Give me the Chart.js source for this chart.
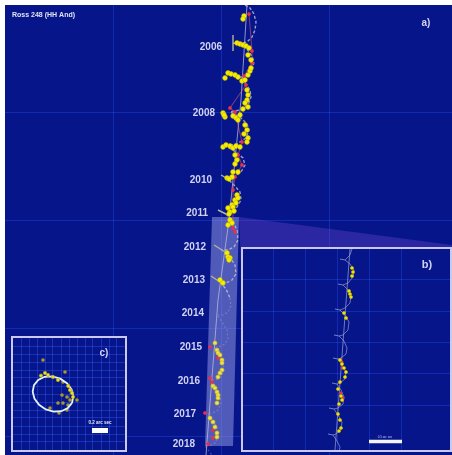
<!DOCTYPE html>
<html>
<head>
<meta charset="utf-8">
<script src="https://cdn.jsdelivr.net/npm/chart.js@4.4.1/dist/chart.umd.min.js"></script>
<style>
  body { margin: 0; background: #fff; width: 452px; height: 455px; position: relative; overflow: hidden; }
  .panel { position: absolute; background: #06168a; box-sizing: border-box; }
  #pa { left: 5px; top: 5px; width: 447px; height: 450px; }
  #pb { left: 241px; top: 247px; width: 211px; height: 205px; border: 2px solid #c9c9ef; }
  #pc { left: 11px; top: 336px; width: 116px; height: 116px; border: 2px solid #c9c9ef; }
  canvas { display: block; }
</style>
</head>
<body>
<div class="panel" id="pa"><canvas id="chartA" width="447" height="450"></canvas></div>
<div class="panel" id="pb"><canvas id="chartB" width="207" height="201"></canvas></div>
<div class="panel" id="pc"><canvas id="chartC" width="112" height="112"></canvas></div>
<script>
// ---- panel a) : full track, offsets in panel units (grid every 108)
const years = ["2006", "2008", "2010", "2011", "2012", "2013", "2014", "2015", "2016", "2017", "2018"];
const yearRA = [217, 210, 207, 203, 201, 200, 199, 197, 195, 191, 190];
const yearDec = [43, 109, 176, 209, 243, 276, 309, 343, 377, 410, 440];

const obsEarly = [
  [239, 12], [238, 15], [232, 39], [235, 40], [238, 41], [241, 42], [244, 44], [243, 51], [246, 56],
  [220, 74], [223, 69], [226, 70], [230, 71], [233, 73], [237, 77], [240, 76], [243, 71], [245, 67], [246, 64],
  [242, 86], [243, 91], [242, 96], [240, 99], [243, 103], [238, 105],
  [218, 109], [220, 113], [219, 111], [228, 112], [231, 114], [233, 116], [235, 111],
  [240, 121], [242, 126], [239, 130], [243, 134],
  [218, 143], [221, 141], [225, 142], [228, 144], [231, 142], [235, 143], [242, 138],
  [230, 151], [232, 156], [230, 160], [228, 168], [233, 168], [227, 173], [222, 174], [224, 175],
  [232, 191], [230, 196], [227, 201], [223, 204], [228, 203], [225, 208], [231, 199], [229, 207], [233, 194], [224, 210],
  [225, 216], [227, 219], [223, 221], [222, 249], [223, 253], [225, 254], [224, 256], [215, 276], [218, 279]
];
const obsLate = [
  [210, 339], [212, 346], [213, 349], [215, 351], [217, 356], [217, 359], [217, 366], [215, 369], [213, 373],
  [208, 382], [210, 384], [212, 388], [213, 391], [213, 394], [212, 399],
  [205, 414], [208, 418], [210, 423], [212, 429], [212, 433]
];
const fitPos = [
  [244, 10], [247, 47], [247, 59], [239, 72], [241, 81], [225, 104], [230, 108], [237, 138], [233, 151],
  [237, 161], [230, 173], [228, 186], [228, 224], [230, 228],
  [205, 343], [213, 354], [205, 374], [207, 378], [200, 409], [208, 426], [208, 434], [203, 440]
];
const modelEarly = [
  [240, 1], [245, 4], [249, 10], [251, 18], [250, 26], [247, 33], [242, 38], [235, 40],
  [241, 44], [247, 52], [249, 58], [247, 66], [241, 72], [232, 74],
  [240, 79], [245, 86], [246, 93], [243, 101], [235, 106], [225, 108],
  [235, 113], [242, 120], [244, 126], [241, 134], [232, 140], [221, 142],
  [231, 148], [238, 154], [240, 161], [236, 168], [229, 173], [223, 175],
  [229, 181], [235, 188], [236, 196], [232, 203], [226, 208], [221, 210],
  [227, 216], [232, 226], [233, 236], [229, 243], [223, 246], [217, 246],
  [224, 252], [230, 261], [231, 270], [227, 276], [221, 279], [215, 278],
  [221, 285], [225, 294]
];
const modelLate = [
  [225, 294], [226, 302], [223, 308], [218, 311], [212, 311],
  [217, 318], [222, 326], [223, 334], [220, 340], [214, 343], [209, 343],
  [214, 350], [218, 358], [219, 366], [216, 373], [211, 376], [206, 376],
  [211, 383], [215, 391], [216, 399], [213, 406], [208, 409], [203, 409],
  [208, 416], [212, 424], [213, 432], [210, 439], [205, 442], [200, 442], [204, 447], [207, 451]
];
const meanPath = [[242, 1], [236, 96], [224, 216], [213, 296], [201, 451]];
const epochMarks = [
  [[228, 31], [228, 47]], [[228, 39], [235, 40]], [[216, 171], [223, 175]],
  [[213, 206], [221, 210]], [[209, 241], [217, 246]], [[206, 272], [215, 278]]
];
const zoomBand = [[207, 213], [234, 213], [228, 442], [200, 442], [207, 213]];
const zoomWedge = [[234, 213], [447, 241], [447, 260], [236, 260], [234, 213]];

// ---- panel b) : 2011-2018 enlarged
const bObs = [
  [111, 20], [112, 24], [111, 28], [108, 43], [109, 46], [110, 49], [103, 65], [105, 70],
  [99, 112], [101, 116], [103, 120], [105, 124], [104, 129], [99, 134], [97, 141], [100, 148],
  [101, 152], [98, 156], [97, 166], [99, 172], [100, 180], [98, 183]
];
const bFit = [[101, 114], [101, 120], [100, 145], [102, 150]];
const bModel = [
  [111, 1], [109, 7], [104, 12], [109, 16], [113, 22], [112, 29], [107, 35], [102, 37],
  [107, 42], [110, 48], [109, 55], [104, 60], [99, 62], [104, 67], [108, 74], [107, 82], [102, 87], [98, 88],
  [103, 93], [106, 100], [105, 106], [100, 110], [97, 111], [101, 117], [105, 124], [104, 131], [99, 135], [96, 136],
  [100, 142], [103, 149], [102, 156], [97, 160], [93, 161], [97, 167], [101, 174], [100, 181], [95, 186], [92, 187],
  [96, 193], [99, 199], [98, 204]
];
const bMean = [[109, 1], [94, 202]];
const bMarks = [
  [[99, 11], [104, 12]], [[97, 36], [102, 37]], [[94, 61], [99, 62]], [[93, 87], [98, 88]],
  [[92, 110], [97, 111]], [[91, 135], [96, 136]], [[88, 160], [93, 161]], [[87, 186], [92, 187]]
];
const bScale = [[128, 193.5], [161, 193.5]];

// ---- panel c) : orbital motion, arcsec
const cOrbit = [
  [0.738, 0.811], [0.685, 0.876], [0.605, 0.915], [0.508, 0.920], [0.410, 0.893], [0.326, 0.835],
  [0.268, 0.758], [0.246, 0.671], [0.262, 0.589], [0.315, 0.524], [0.395, 0.485], [0.492, 0.480],
  [0.590, 0.508], [0.674, 0.565], [0.732, 0.642], [0.754, 0.729], [0.738, 0.811]
];
const cObsOn = [
  [0.4, 0.4375], [0.4375, 0.4625], [0.5, 0.4875], [0.5625, 0.525], [0.35, 0.47],
  [0.7125, 0.65], [0.7375, 0.6875], [0.75, 0.7375], [0.69, 0.6]
];
const cObsOff = [
  [0.375, 0.275], [0.625, 0.55], [0.65, 0.425], [0.675, 0.7375], [0.7125, 0.775], [0.6875, 0.8375],
  [0.625, 0.8125], [0.5625, 0.8125], [0.8, 0.775], [0.575, 0.9375], [0.4625, 0.875], [0.675, 0.9], [0.6125, 0.7125]
];
const cScale = [[0.9875, 1.156], [1.1875, 1.156]];

const pts = a => a.map(([x, y]) => ({ x, y }));
const segs = list => list.flatMap(s => [...pts(s), { x: null, y: null }]);

const GRID = "rgba(45,80,255,0.35)";

function axis(min, max, step, reverse, color) {
  return {
    type: "linear", min, max, reverse,
    ticks: { display: false, stepSize: step },
    border: { display: false },
    grid: {
      drawTicks: false,
      lineWidth: 1,
      color: c => {
        const v = c.tick ? c.tick.value : 0;
        const k = v / step;
        return Math.abs(k - Math.round(k)) < 1e-6 && v > min && v < max ? color : "transparent";
      },
    },
  };
}

function textPlugin(items) {
  return {
    id: "texts",
    afterDatasetsDraw(chart) {
      const { ctx, scales: { x, y } } = chart;
      ctx.save();
      ctx.textBaseline = "middle";
      for (const t of items) {
        ctx.font = t.font;
        ctx.fillStyle = t.color;
        ctx.textAlign = t.align;
        ctx.fillText(t.text, x.getPixelForValue(t.x), y.getPixelForValue(t.y));
      }
      ctx.restore();
    },
  };
}

function baseOptions(xa, ya) {
  return {
    responsive: false,
    animation: false,
    events: [],
    devicePixelRatio: 1,
    layout: { padding: 0, autoPadding: false },
    plugins: { legend: { display: false }, tooltip: { enabled: false } },
    scales: { x: xa, y: ya },
  };
}

const dots = (data, bg, border, r) => ({
  data: pts(data), backgroundColor: bg, borderColor: border, borderWidth: 0.6, pointRadius: r, showLine: false,
});
const path = (data, color, width, dash) => ({
  data: data, borderColor: color, borderWidth: width, borderDash: dash || [], showLine: true,
  pointRadius: 0, tension: 0, fill: false,
});

const LAV = "#d2d2f2";

// panel a
const aTexts = years.map((t, i) => ({
  text: t, x: yearRA[i], y: yearDec[i], align: "right", font: "bold 10px 'Liberation Sans', Arial", color: LAV,
}));
aTexts.push({ text: "Ross 248 (HH And)", x: 7, y: 11, align: "left", font: "bold 7px 'Liberation Sans', Arial", color: "#e4e4f4" });
aTexts.push({ text: "a)", x: 421, y: 19, align: "center", font: "bold 10px 'Liberation Sans', Arial", color: LAV });

new Chart(document.getElementById("chartA"), {
  type: "scatter",
  data: {
    datasets: [
      dots(obsEarly, "#f6f000", "#c8b800", 2.4),
      dots(obsLate, "#ece25a", "#c8b800", 2.1),
      dots(fitPos, "#e8304e", "#e8304e", 1.6),
      path(pts(fitPos.slice(0, 14)), "rgba(235,90,120,0.5)", 1.1),
      path(segs(epochMarks), "#b4b49c", 1.4),
      path(pts(modelEarly), "rgba(200,200,222,0.75)", 1.4, [3, 2]),
      path(pts(modelLate), "rgba(200,200,230,0.3)", 1.2, [2, 2]),
      path(pts(meanPath), "rgba(190,190,220,0.75)", 1),
      { data: pts(zoomBand), showLine: true, pointRadius: 0, borderWidth: 0, tension: 0,
        fill: "shape", backgroundColor: "rgba(170,172,240,0.45)" },
      { data: pts(zoomWedge), showLine: true, pointRadius: 0, borderWidth: 0, tension: 0,
        fill: "shape", backgroundColor: "rgba(130,80,220,0.3)" },
    ],
  },
  options: baseOptions(axis(0, 447, 108, false, GRID), axis(1, 451, 108, true, GRID)),
  plugins: [textPlugin(aTexts)],
});

// panel b
new Chart(document.getElementById("chartB"), {
  type: "scatter",
  data: {
    datasets: [
      dots(bObs, "#f2e600", "#c8b800", 1.6),
      dots(bFit, "#e8304e", "#e8304e", 1.2),
      path(segs(bMarks), "rgba(170,170,210,0.7)", 1),
      path(pts(bModel), "rgba(160,160,215,0.65)", 1),
      path(pts(bMean), "rgba(170,170,215,0.65)", 1),
      path(pts(bScale), "#f4f4ff", 3.5),
    ],
  },
  options: baseOptions(axis(2, 209, 32, false, GRID), axis(1, 202, 31.5, true, GRID)),
  plugins: [textPlugin([
    { text: "b)", x: 186, y: 17, align: "center", font: "bold 11px 'Liberation Sans', Arial", color: LAV },
    { text: "0.5 arc sec", x: 144, y: 189, align: "center", font: "3px 'Liberation Sans', Arial", color: "#c8c8ee" },
  ])],
});

// panel c
const CGRID = "rgba(50,90,255,0.4)";
new Chart(document.getElementById("chartC"), {
  type: "scatter",
  data: {
    datasets: [
      dots(cObsOn, "#e8e020", "#b8a820", 1.7),
      path(pts(cOrbit), "#e2f2ff", 1.8),
      dots(cObsOff, "#a89838", "#8a7c2c", 1.6),
      path(pts(cScale), "#ffffff", 5),
    ],
  },
  options: baseOptions(axis(0, 1.4, 0.1, false, CGRID), axis(0, 1.4, 0.1, true, CGRID)),
  plugins: [textPlugin([
    { text: "c)", x: 1.1375, y: 0.1875, align: "center", font: "bold 10px 'Liberation Sans', Arial", color: LAV },
    { text: "0.2 arc sec", x: 1.0875, y: 1.0625, align: "center", font: "bold 4.5px 'Liberation Sans', Arial", color: "#e8e8ff" },
  ])],
});
</script>
</body>
</html>
